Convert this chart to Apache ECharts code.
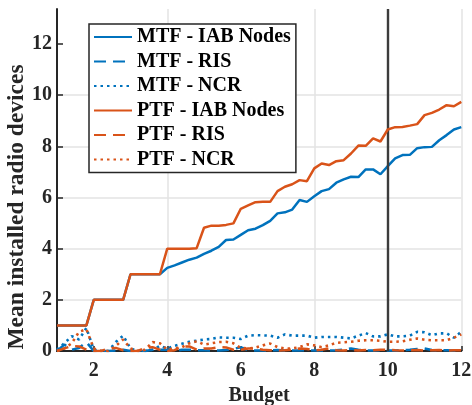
<!DOCTYPE html>
<html>
<head>
<meta charset="utf-8">
<script src="https://cdn.jsdelivr.net/npm/echarts@6/dist/echarts.min.js"></script>
<style>
html,body{margin:0;padding:0;background:#fff;}
#chart{width:472px;height:405px;}
</style>
</head>
<body>
<div id="chart"></div>
<script>
var budget = [1.0,1.2,1.4,1.6,1.8,2.0,2.2,2.4,2.6,2.8,3.0,3.2,3.4,3.6,3.8,4.0,4.2,4.4,4.6,4.8,5.0,5.2,5.4,5.6,5.8,6.0,6.2,6.4,6.6,6.8,7.0,7.2,7.4,7.6,7.8,8.0,8.2,8.4,8.6,8.8,9.0,9.2,9.4,9.6,9.8,10.0,10.2,10.4,10.6,10.8,11.0,11.2,11.4,11.6,11.8,12.0];

var mtfIAB = [1,1,1,1,1, 2,2,2,2,2, 3,3,3,3,3, 3.25,3.35,3.46,3.57,3.65, 3.8,3.92,4.07,4.34,4.36, 4.54,4.72,4.78,4.92,5.09, 5.38,5.42,5.53,5.9,5.83, 6.05,6.25,6.33,6.58,6.71, 6.81,6.8,7.1,7.1,6.91, 7.23,7.53,7.66,7.67,7.93, 7.97,7.98,8.24,8.44,8.66,8.75];
var mtfRIS = [0,0.25,0.05,0.12,0.35, 0,0,0,0.02,0.05, 0,0,0,0.05,0.05, 0.05,0,0.05,0.05,0.03, 0.03,0.02,0.02,0.04,0.08, 0.15,0.03,0.02,0.02,0.03, 0.04,0.02,0.02,0.02,0.03, 0.02,0.02,0.02,0.03,0.05, 0.1,0.05,0.02,0.02,0.03, 0.02,0.02,0.03,0.05,0.08, 0.1,0.04,0.02,0.03,0.02,0.02];
var mtfNCR = [0.05,0.3,0.58,0.45,0.9, 0.05,0,0,0.35,0.6, 0.1,0,0,0.05,0.2, 0.1,0.2,0.28,0.36,0.4, 0.45,0.47,0.53,0.52,0.52, 0.47,0.6,0.62,0.61,0.6, 0.52,0.65,0.6,0.6,0.6, 0.52,0.55,0.55,0.55,0.52, 0.49,0.6,0.7,0.57,0.57, 0.65,0.57,0.57,0.6,0.75, 0.73,0.62,0.69,0.69,0.52,0.75];
var ptfIAB = [1,1,1,1,1, 2,2,2,2,2, 3,3,3,3,3, 4,4,4,4,4.02, 4.82,4.9,4.9,4.93,4.99, 5.56,5.69,5.82,5.83,5.83, 6.25,6.42,6.52,6.68,6.64, 7.14,7.33,7.27,7.42,7.46, 7.72,8.03,8.02,8.31,8.19, 8.66,8.75,8.76,8.81,8.87, 9.22,9.31,9.44,9.61,9.57,9.74];
var ptfRIS = [0,0.1,0.2,0.18,0.05, 0,0,0.1,0.12,0.03, 0,0,0.12,0.15,0.05, 0,0.03,0.17,0.18,0.05, 0.1,0.1,0.15,0.14,0.05, 0.05,0.1,0.1,0.05,0.03, 0.02,0.03,0.05,0.1,0.08, 0.02,0.05,0.1,0.03,0.02, 0.03,0.02,0.04,0.03,0.05, 0.05,0.03,0.02,0.03,0.04, 0.02,0.03,0.04,0.02,0.03,0.03];
var ptfNCR = [0,0.1,0.3,0.75,0.85, 0.1,0,0,0.2,0.45, 0.1,0,0.05,0.35,0.3, 0.05,0.1,0.15,0.3,0.38, 0.25,0.3,0.35,0.36,0.3, 0.12,0.1,0.13,0.22,0.29, 0.15,0.1,0.1,0.15,0.26, 0.22,0.15,0.22,0.32,0.34, 0.36,0.4,0.42,0.42,0.4, 0.36,0.36,0.38,0.44,0.49, 0.44,0.42,0.42,0.42,0.52,0.65];

var xTicks = [2,4,6,8,10,12];
var yTicks = [0,2,4,6,8,10,12];
var vLineAt = 10;

var seriesNames = ['MTF - IAB Nodes','MTF - RIS','MTF - NCR','PTF - IAB Nodes','PTF - RIS','PTF - NCR'];
var seriesValues = [mtfIAB, mtfRIS, mtfNCR, ptfIAB, ptfRIS, ptfNCR];

var BLUE = '#0072BD', ORANGE = '#D95319';
var FONT = "'Liberation Serif','Times New Roman',serif";
var styles = [
  {color: BLUE, type: 'solid', width: 2.5},
  {color: BLUE, type: [12, 7], width: 2.5},
  {color: BLUE, type: [2.5, 4], width: 2.6},
  {color: ORANGE, type: 'solid', width: 2.5},
  {color: ORANGE, type: [12, 7], width: 2.5},
  {color: ORANGE, type: [2.5, 4], width: 2.6}
];

function pairs(vals){ return budget.map(function(b,i){ return [b, vals[i]]; }); }

var series = seriesNames.map(function(name, k){
  var s = {
    name: name, type: 'line', data: pairs(seriesValues[k]),
    symbol: 'none', showSymbol: false, smooth: false, clip: true,
    color: styles[k].color,
    lineStyle: {color: styles[k].color, type: styles[k].type, width: styles[k].width, cap: 'butt'},
    z: 3 + k
  };
  if (k === 0) {
    s.markLine = {
      symbol: ['none','none'], silent: true, animation: false,
      label: {show: false},
      lineStyle: {color: '#3c3c3c', width: 2.4, type: 'solid'},
      data: [{xAxis: vLineAt}]
    };
  }
  return s;
});

var chart = echarts.init(document.getElementById('chart'), null, {renderer: 'canvas'});
chart.setOption({
  animation: false,
  backgroundColor: '#ffffff',
  grid: {left: 57, right: 10.7, top: 9, bottom: 54, containLabel: false, outerBoundsMode: 'none'},
  legend: {
    orient: 'vertical', left: 89, top: 24,
    padding: [3, 5, 3, 4],
    itemWidth: 38, itemHeight: 14, itemGap: 4.5,
    backgroundColor: '#ffffff', borderColor: '#262626', borderWidth: 1.5, borderRadius: 0,
    itemStyle: {color: 'rgba(0,0,0,0)', borderColor: 'rgba(0,0,0,0)', borderWidth: 0},
    textStyle: {fontFamily: FONT, fontWeight: 'bold', fontSize: 20, lineHeight: 20, color: '#000'},
    data: seriesNames
  },
  xAxis: {
    type: 'value', min: 1, max: 12, interval: 1,
    name: 'Budget', nameLocation: 'middle', nameGap: 33,
    nameTextStyle: {fontFamily: FONT, fontWeight: 'bold', fontSize: 20, color: '#262626'},
    axisLine: {show: true, lineStyle: {color: '#262626', width: 2}},
    axisTick: {show: true, inside: true, length: 5, customValues: xTicks, lineStyle: {color: '#262626', width: 1.5}},
    axisLabel: {customValues: xTicks, margin: 10, fontFamily: FONT, fontWeight: 'bold', fontSize: 20, color: '#262626',
      formatter: function(v){ return xTicks.indexOf(v) >= 0 ? String(v) : ''; }},
    splitLine: {show: true, showMinLine: false, lineStyle: {color: ['#e3e3e3','rgba(0,0,0,0)'], width: 1.5}}
  },
  yAxis: {
    type: 'value', min: 0, max: 13.37, interval: 2,
    axisLine: {show: true, lineStyle: {color: '#262626', width: 2}},
    axisTick: {show: true, inside: true, length: 6, customValues: yTicks, lineStyle: {color: '#262626', width: 1.5}},
    axisLabel: {customValues: yTicks, margin: 5, fontFamily: FONT, fontWeight: 'bold', fontSize: 20, color: '#262626',
      formatter: function(v){ return yTicks.indexOf(v) >= 0 ? String(v) : ''; }},
    splitLine: {show: true, showMinLine: false, showMaxLine: false, lineStyle: {color: '#e3e3e3', width: 1.5}}
  },
  graphic: [{
    type: 'text', x: 16.5, y: 207, rotation: Math.PI / 2, silent: true,
    style: {text: 'Mean installed radio devices', fontFamily: FONT, fontWeight: 'bold', fontSize: 23.5,
      fill: '#262626', align: 'center', verticalAlign: 'middle'}
  }],
  series: series
});
</script>
</body>
</html>
